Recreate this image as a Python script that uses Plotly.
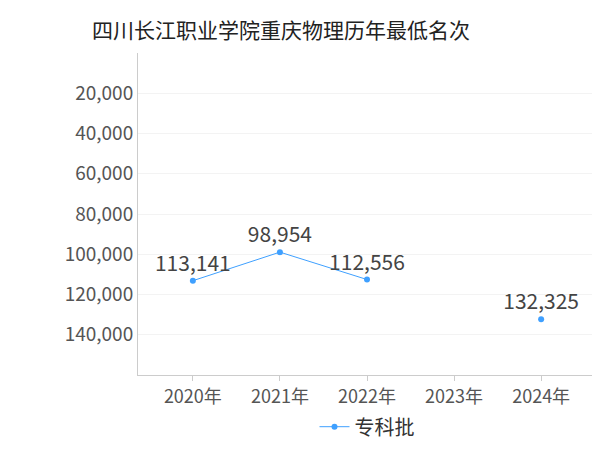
import plotly.graph_objects as go

years = ["2020年", "2021年", "2022年", "2023年", "2024年"]
ranks = [113141, 98954, 112556, None, 132325]
labels = ["113,141", "98,954", "112,556", "", "132,325"]
tickvals = [20000, 40000, 60000, 80000, 100000, 120000, 140000]

fig = go.Figure(go.Scatter(
    x=years, y=ranks, mode="lines+markers+text", name="专科批",
    text=labels, textposition="top center",
    textfont=dict(size=21, color="#444"),
    line=dict(color="#3fa0ff", width=1), marker=dict(color="#3fa0ff", size=6),
    connectgaps=False, cliponaxis=False,
))
fig.update_layout(
    width=600, height=450, plot_bgcolor="white", paper_bgcolor="white",
    font=dict(family="Noto Sans CJK SC", color="#555"),
    title=dict(text="四川长江职业学院重庆物理历年最低名次", x=0.14, xanchor="left", y=0.965,
               font=dict(size=21, color="#222")),
    margin=dict(l=130, r=12, t=45, b=80),
    showlegend=True,
    legend=dict(orientation="h", x=0.5, xanchor="center", y=-0.1, font=dict(size=20, color="#333")),
    xaxis=dict(range=[-0.63, 4.63], showline=True, linecolor="#ccc", showgrid=False,
               tickfont=dict(size=18), ticks="outside", ticklen=5, tickcolor="#ccc"),
    yaxis=dict(range=[160000, 0], tickvals=tickvals, tickformat=",",
               showline=True, linecolor="#ccc", gridcolor="#f3f3f3",
               tickfont=dict(size=19), zeroline=False),
)
fig.write_html("out.html")
